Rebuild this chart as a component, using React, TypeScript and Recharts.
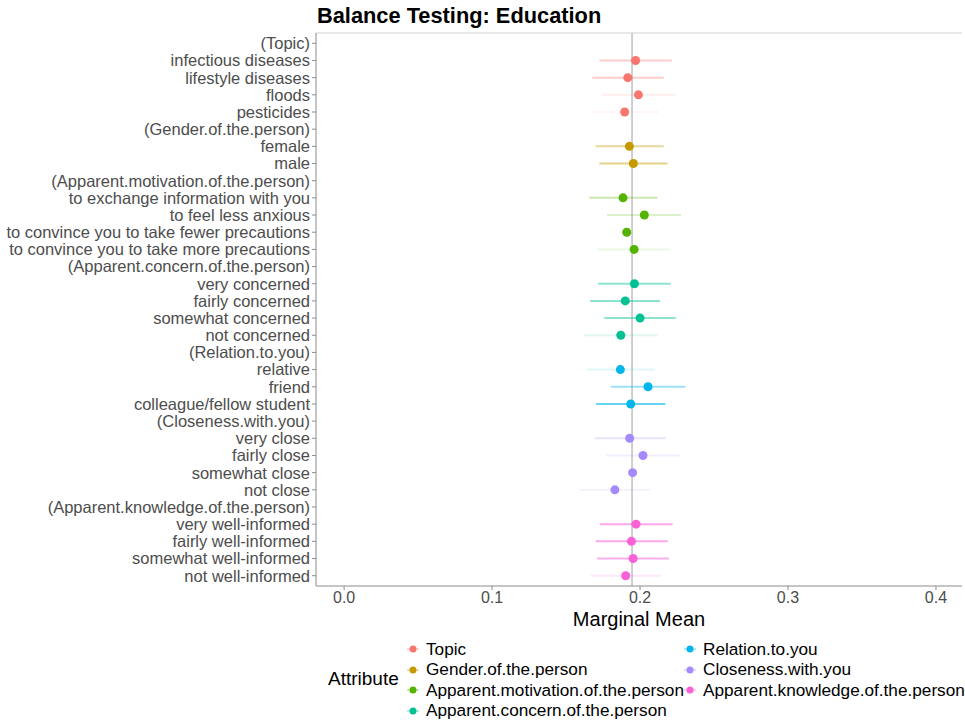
import React from "react";
import {
  ScatterChart,
  Scatter,
  XAxis,
  YAxis,
  ReferenceLine,
} from "recharts";

// Zeilen von oben nach unten
const labels = [
  "(Topic)", "infectious diseases", "lifestyle diseases", "floods", "pesticides",
  "(Gender.of.the.person)", "female", "male",
  "(Apparent.motivation.of.the.person)", "to exchange information with you", "to feel less anxious",
  "to convince you to take fewer precautions", "to convince you to take more precautions",
  "(Apparent.concern.of.the.person)", "very concerned", "fairly concerned", "somewhat concerned", "not concerned",
  "(Relation.to.you)", "relative", "friend", "colleague/fellow student",
  "(Closeness.with.you)", "very close", "fairly close", "somewhat close", "not close",
  "(Apparent.knowledge.of.the.person)", "very well-informed", "fairly well-informed", "somewhat well-informed", "not well-informed",
];

// Attribut je Zeile (Index in attributes), -1 = Überschrift
const group = [
  -1, 0, 0, 0, 0,
  -1, 1, 1,
  -1, 2, 2, 2, 2,
  -1, 3, 3, 3, 3,
  -1, 4, 4, 4,
  -1, 5, 5, 5, 5,
  -1, 6, 6, 6, 6,
];

const estimate = [
  null, 0.197, 0.1917, 0.1989, 0.1896,
  null, 0.1928, 0.1955,
  null, 0.1885, 0.2029, 0.191, 0.196,
  null, 0.1962, 0.19, 0.2, 0.187,
  null, 0.1867, 0.2054, 0.1937,
  null, 0.193, 0.202, 0.195, 0.183,
  null, 0.1973, 0.1942, 0.1953, 0.1903,
];

const lower = [
  null, 0.1725, 0.1678, 0.1741, 0.1658,
  null, 0.170, 0.1725,
  null, 0.1658, 0.1777, 0.167, 0.1714,
  null, 0.1716, 0.1662, 0.1759, 0.1622,
  null, 0.164, 0.1802, 0.1703,
  null, 0.1694, 0.1772, 0.171, 0.159,
  null, 0.1728, 0.170, 0.171, 0.1667,
];

const upper = [
  null, 0.2215, 0.216, 0.2241, 0.2135,
  null, 0.216, 0.2187,
  null, 0.2117, 0.2277, 0.215, 0.2203,
  null, 0.2207, 0.2135, 0.2241, 0.212,
  null, 0.21, 0.2306, 0.2171,
  null, 0.2174, 0.2268, 0.219, 0.2068,
  null, 0.222, 0.2187, 0.2196, 0.2142,
];

// Deckkraft der Intervalle (im Original je Zeile unterschiedlich)
const ciAlpha = [
  0, 0.35, 0.35, 0.12, 0.06,
  0, 0.4, 0.45,
  0, 0.3, 0.2, 0, 0.1,
  0, 0.45, 0.45, 0.45, 0.12,
  0, 0.12, 0.4, 0.6,
  0, 0.25, 0.15, 0, 0.12,
  0, 0.55, 0.55, 0.5, 0.15,
];

const attributes = [
  "Topic",
  "Gender.of.the.person",
  "Apparent.motivation.of.the.person",
  "Apparent.concern.of.the.person",
  "Relation.to.you",
  "Closeness.with.you",
  "Apparent.knowledge.of.the.person",
];

const colors = ["#F8766D", "#C49A00", "#53B400", "#00C094", "#00B6EB", "#A58AFF", "#FB61D7"];

const xTicks = [0, 0.1, 0.2, 0.3, 0.4];
const overallMean = 0.1946;

const font = "'Liberation Sans', Arial, sans-serif";

function LegendKey({ color }: { color: string }) {
  return (
    <svg width={14} height={12} style={{ marginRight: 6 }}>
      <line x1={1} x2={13} y1={6} y2={6} stroke={color} strokeOpacity={0.4} strokeWidth={1.5} />
      <circle cx={7} cy={6} r={3.5} fill={color} />
    </svg>
  );
}

export default function App() {
  const rows = labels.map((l, i) => ({
    idx: i,
    label: l,
    est: estimate[i],
    lo: lower[i],
    hi: upper[i],
    g: group[i],
  }));

  const legendCol1 = [0, 1, 2, 3];
  const legendCol2 = [4, 5, 6];

  return (
    <div style={{ position: "absolute", left: 0, top: 0, width: 965, height: 723, background: "#fff", fontFamily: font }}>
      <div style={{ position: "absolute", left: 317, top: 3, fontSize: 21.8, fontWeight: "bold", color: "#000" }}>
        Balance Testing: Education
      </div>

      <ScatterChart width={965} height={723} margin={{ top: 33, right: 3, bottom: 92, left: 0 }}>
        <XAxis
          type="number"
          dataKey="est"
          domain={[-0.019, 0.4176]}
          ticks={xTicks}
          tickFormatter={(v: number) => v.toFixed(1)}
          allowDataOverflow
          stroke="#8c8c8c"
          tick={{ fill: "#4d4d4d", fontSize: 16, fontFamily: font }}
          tickSize={4}
          label={{ value: "Marginal Mean", position: "insideBottom", offset: 5, fill: "#000", fontSize: 20, fontFamily: font }}
          height={45}
        />
        <YAxis
          type="number"
          dataKey="idx"
          domain={[-0.6, 31.6]}
          reversed
          ticks={labels.map((_, i) => i)}
          interval={0}
          tickFormatter={(v: number) => labels[v] ?? ""}
          stroke="#8c8c8c"
          tick={{ fill: "#4d4d4d", fontSize: 16.5, fontFamily: font }}
          tickSize={4}
          tickMargin={2}
          width={316}
          allowDataOverflow
        />
        <ReferenceLine y={-0.6} stroke="#e0e0e0" strokeWidth={1.5} />
        <ReferenceLine x={overallMean} stroke="#c0c0c0" strokeWidth={1.5} />
        {rows
          .filter((r) => r.lo !== null && ciAlpha[r.idx] > 0)
          .map((r) => (
            <ReferenceLine
              key={"ci" + r.idx}
              segment={[{ x: r.lo as number, y: r.idx }, { x: r.hi as number, y: r.idx }]}
              stroke={colors[r.g]}
              strokeOpacity={ciAlpha[r.idx]}
              strokeWidth={2}
            />
          ))}
        {attributes.map((a, gi) => (
          <Scatter
            key={a}
            name={a}
            data={rows.filter((r) => r.g === gi)}
            fill={colors[gi]}
            isAnimationActive={false}
            shape={(p: any) => <circle cx={p.cx} cy={p.cy} r={4.5} fill={colors[gi]} />}
          />
        ))}
      </ScatterChart>

      <div style={{ position: "absolute", left: 328, top: 668, fontSize: 19, color: "#000" }}>Attribute</div>
      <div style={{ position: "absolute", left: 406, top: 639, fontSize: 17.2, color: "#000" }}>
        {legendCol1.map((gi) => (
          <div key={gi} style={{ display: "flex", alignItems: "center", height: 20.5, whiteSpace: "nowrap" }}>
            <LegendKey color={colors[gi]} />
            {attributes[gi]}
          </div>
        ))}
      </div>
      <div style={{ position: "absolute", left: 683, top: 639, fontSize: 17.2, color: "#000" }}>
        {legendCol2.map((gi) => (
          <div key={gi} style={{ display: "flex", alignItems: "center", height: 20.5, whiteSpace: "nowrap" }}>
            <LegendKey color={colors[gi]} />
            {attributes[gi]}
          </div>
        ))}
      </div>
    </div>
  );
}
